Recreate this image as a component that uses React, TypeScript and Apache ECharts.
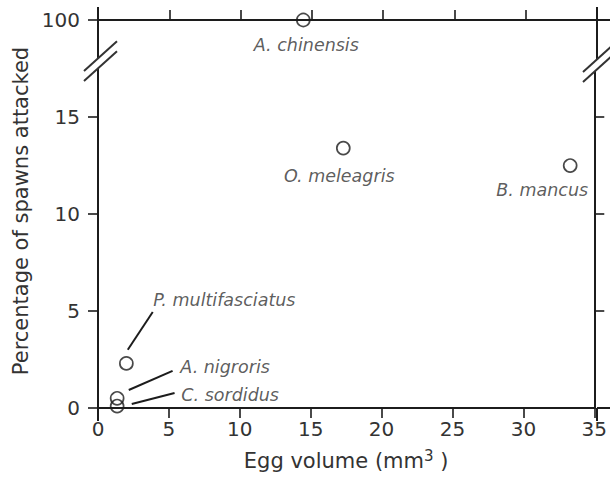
import { useEffect, useRef } from "react";
import * as echarts from "echarts";

// ---- data ----
const species = ["A. chinensis", "O. meleagris", "B. mancus", "P. multifasciatus", "A. nigroris", "C. sordidus"];
const eggVolume = [14.4, 17.3, 33.3, 2.0, 1.35, 1.35];
const attacked = [100, 13.4, 12.5, 2.3, 0.5, 0.1];

// leader lines (data units) for crowded labels
const leaderStart = [[2.1, 3.0], [2.17, 0.93], [2.38, 0.21]];
const leaderEnd = [[3.86, 4.95], [5.26, 1.91], [5.4, 0.77]];

const xTickValues = [0, 5, 10, 15, 20, 25, 30, 35];
const yLowerTicks = [0, 5, 10, 15];
const yUpperTicks = [100];
const yRightTicks = [5, 10, 15];

// ---- layout / style ----
const FONT = "DejaVu Sans";
const INK = "#1c1c1c";
const TXT = "#333";
const GL = 98;
const GRX = 597;
const GTOP = 20;
const GBRK = 62;
const GBOT = 408;
const W = 610;
const H = 482;

const labelOffsets: Record<string, number[]> = {
  "A. chinensis": [3, 25],
  "O. meleagris": [-4, 28],
  "B. mancus": [-28, 24],
  "P. multifasciatus": [98, -63],
  "A. nigroris": [108, -31],
  "C. sordidus": [113, -11],
};

export default function App() {
  const ref = useRef<HTMLDivElement>(null);
  useEffect(() => {
    if (!ref.current) return;
    const chart = echarts.init(ref.current, undefined, { renderer: "svg" });

    const topData: any[] = [];
    const lowData: any[] = [];
    species.forEach((s, i) => {
      const item = {
        name: s,
        value: [eggVolume[i], attacked[i]],
        label: { offset: labelOffsets[s] },
      };
      if (attacked[i] >= 50) topData.push(item);
      else lowData.push(item);
    });

    const axisLine = { show: true, onZero: false, lineStyle: { color: INK, width: 2 } };
    const tickStyle = { color: INK, width: 1.6 };
    const lowerMax = 17.84;

    const scatterCommon = {
      type: "scatter",
      symbol: "circle",
      symbolSize: 13,
      clip: false,
      itemStyle: { color: "transparent", borderColor: INK, borderWidth: 1.7 },
      emphasis: { disabled: true },
      label: {
        show: true,
        position: "inside",
        formatter: "{b}",
        fontFamily: FONT,
        fontStyle: "italic",
        fontSize: 17.5,
        color: TXT,
      },
      z: 5,
    };

    const brk = (cx: number) => {
      // two parallel slanted strokes with a white gap hiding the axis
      const k = 0.9;
      const yAt = (x: number, y0: number) => y0 - k * (x - (cx - 14));
      const y1 = cx < 300 ? 71 : 72;
      const y2 = y1 + 10;
      const x0 = cx - 14;
      const x1 = cx + 19;
      return [
        {
          type: "polygon",
          z: 100,
          shape: {
            points: [
              [cx - 6, yAt(cx - 6, y1)],
              [cx + 6, yAt(cx + 6, y1)],
              [cx + 6, yAt(cx + 6, y2)],
              [cx - 6, yAt(cx - 6, y2)],
            ],
          },
          style: { fill: "#fff" },
        },
        {
          type: "line",
          z: 101,
          shape: { x1: x0, y1: y1, x2: x1, y2: yAt(x1, y1) },
          style: { stroke: "#333", lineWidth: 2 },
        },
        {
          type: "line",
          z: 101,
          shape: { x1: x0, y1: y2, x2: x1, y2: yAt(x1, y2) },
          style: { stroke: "#333", lineWidth: 2 },
        },
      ];
    };

    const ext = (x1: number, y1: number, x2: number, y2: number) => ({
      type: "line",
      z: 50,
      shape: { x1, y1, x2, y2 },
      style: { stroke: INK, lineWidth: 2 },
    });

    chart.setOption({
      animation: false,
      backgroundColor: "#fff",
      grid: [
        { left: GL, right: W - GRX, top: GTOP, height: GBRK - GTOP },
        { left: GL, right: W - GRX, top: GBRK, height: GBOT - GBRK },
      ],
      xAxis: [
        {
          gridIndex: 0,
          type: "value",
          position: "top",
          min: 0,
          max: 35,
          interval: 5,
          axisLine,
          axisTick: { show: true, length: 10, inside: false, lineStyle: tickStyle, customValues: xTickValues },
          axisLabel: { show: false },
          splitLine: { show: false },
        },
        {
          gridIndex: 1,
          type: "value",
          position: "bottom",
          min: 0,
          max: 35,
          interval: 5,
          axisLine,
          axisTick: { show: true, length: 10, inside: false, lineStyle: tickStyle, customValues: xTickValues },
          axisLabel: {
            show: true,
            customValues: xTickValues,
            margin: 11,
            fontFamily: FONT,
            fontSize: 20,
            color: TXT,
          },
          splitLine: { show: false },
          name: "{a|Egg volume (mm}{s|3}{a| )}",
          nameLocation: "middle",
          nameGap: 40,
          nameTextStyle: {
            rich: {
              a: { fontFamily: FONT, fontSize: 21, color: TXT },
              s: { fontFamily: FONT, fontSize: 15, color: TXT, padding: [0, 0, 11, 0] },
            },
          },
        },
      ],
      yAxis: [
        {
          gridIndex: 0,
          type: "value",
          position: "left",
          min: 90,
          max: 100,
          axisLine,
          axisTick: { show: true, length: 10, lineStyle: tickStyle, customValues: yUpperTicks },
          axisLabel: { show: true, customValues: yUpperTicks, margin: 18, fontFamily: FONT, fontSize: 20, color: TXT },
          splitLine: { show: false },
        },
        {
          gridIndex: 0,
          type: "value",
          position: "right",
          min: 90,
          max: 100,
          axisLine,
          axisTick: { show: false },
          axisLabel: { show: false },
          splitLine: { show: false },
        },
        {
          gridIndex: 1,
          type: "value",
          position: "left",
          min: 0,
          max: lowerMax,
          interval: 5,
          axisLine,
          axisTick: { show: true, length: 10, lineStyle: tickStyle, customValues: yLowerTicks },
          axisLabel: { show: true, customValues: yLowerTicks, margin: 18, fontFamily: FONT, fontSize: 20, color: TXT },
          splitLine: { show: false },
        },
        {
          gridIndex: 1,
          type: "value",
          position: "right",
          min: 0,
          max: lowerMax,
          interval: 5,
          axisLine,
          axisTick: { show: true, length: 10, lineStyle: tickStyle, customValues: yRightTicks },
          axisLabel: { show: false },
          splitLine: { show: false },
        },
      ],
      series: [
        { ...scatterCommon, xAxisIndex: 0, yAxisIndex: 0, data: topData },
        { ...scatterCommon, xAxisIndex: 1, yAxisIndex: 2, data: lowData },
        {
          type: "lines",
          coordinateSystem: "cartesian2d",
          xAxisIndex: 1,
          yAxisIndex: 2,
          symbol: ["none", "none"],
          lineStyle: { color: INK, width: 2, opacity: 1, curveness: 0 },
          emphasis: { disabled: true },
          data: leaderStart.map((s, i) => ({ coords: [s, leaderEnd[i]] })),
          z: 4,
        },
      ],
      graphic: [
        ext(GL, 7, GL, GTOP),
        ext(GRX, 7, GRX, GTOP),
        ext(GL, GBOT, GL, GBOT + 13),
        ext(GRX, GBOT, GRX, GBOT + 13),
        ext(GRX, GTOP, W, GTOP),
        ext(GRX, GBOT, W, GBOT),
        ...brk(GL),
        ...brk(GRX),
        {
          type: "text",
          x: 21,
          y: 211,
          rotation: Math.PI / 2,
          style: {
            text: "Percentage of spawns attacked",
            fontFamily: FONT,
            fontSize: 21,
            fill: TXT,
            align: "center",
            verticalAlign: "middle",
          },
        },
      ],
    });
    return () => chart.dispose();
  }, []);

  return (
    <div
      ref={ref}
      style={{ position: "fixed", left: 0, top: 0, width: W, height: H, background: "#fff" }}
    />
  );
}
